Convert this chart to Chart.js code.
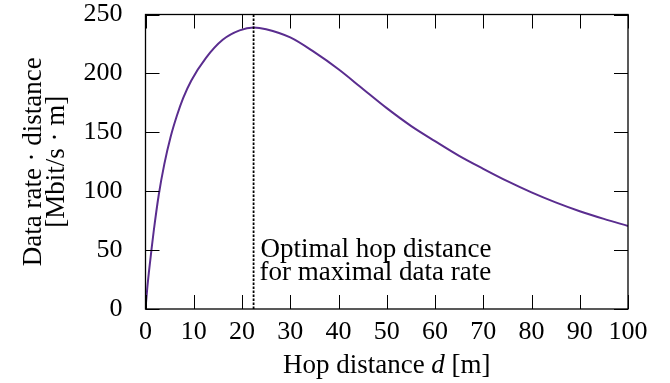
<!DOCTYPE html>
<html>
<head>
<meta charset="utf-8">
<script src="https://cdn.jsdelivr.net/npm/chart.js@4/dist/chart.umd.min.js"></script>
<style>
  html, body { margin: 0; padding: 0; background: #fff; }
</style>
</head>
<body>
<canvas id="hopChart" width="670" height="383"></canvas>
<script>
// hop distance d [m] and data rate * distance [Mbit/s * m]
const hopDistance = [0, 0.35, 0.7, 1.2, 1.7, 2.75, 3.9, 5.2, 6.5, 7.8, 9.5, 12.5, 16, 19.5, 22.4,
	25, 30, 35, 40, 45, 50, 55, 60, 65, 70, 75, 80, 85, 90, 95, 100];
const rateDistance = [0, 17, 31, 49, 66, 97, 123, 146, 164, 179, 194, 213, 228.5, 236.5, 239,
	237.5, 230.5, 218, 203.5, 187, 170.5, 155.5, 142.5, 130, 119, 108.5, 99, 90.5, 83, 76.5, 70.5];
const optimalDistance = 22.4;
const xTicks = [0, 10, 20, 30, 40, 50, 60, 70, 80, 90, 100];
const yTicks = [0, 50, 100, 150, 200, 250];
const noteLines = ['Optimal hop distance', 'for maximal data rate'];

const FONT = "'Liberation Serif', 'Times New Roman', serif";
const TICK_LEN = 14;

function toPoints(xs, ys) {
	return xs.map((v, i) => ({x: v, y: ys[i]}));
}

// frame, inward ticks on all sides, axis titles and the note
const framePlugin = {
	id: 'frame',
	afterDatasetsDraw(chart) {
		const ctx = chart.ctx;
		const a = chart.chartArea;
		const x = chart.scales.x;
		const y = chart.scales.y;
		ctx.save();
		ctx.strokeStyle = '#000';
		ctx.lineWidth = 1;
		ctx.beginPath();
		xTicks.forEach(v => {
			const px = Math.round(x.getPixelForValue(v)) + 0.5;
			ctx.moveTo(px, a.bottom); ctx.lineTo(px, a.bottom - TICK_LEN);
			ctx.moveTo(px, a.top); ctx.lineTo(px, a.top + TICK_LEN);
		});
		yTicks.forEach(v => {
			const py = Math.round(y.getPixelForValue(v)) + 0.5;
			ctx.moveTo(a.left, py); ctx.lineTo(a.left + TICK_LEN, py);
			ctx.moveTo(a.right, py); ctx.lineTo(a.right - TICK_LEN, py);
		});
		ctx.stroke();
		ctx.lineWidth = 1.3;
		ctx.strokeRect(a.left, a.top, a.right - a.left, a.bottom - a.top);

		ctx.fillStyle = '#000';
		ctx.textBaseline = 'alphabetic';
		ctx.font = '27px ' + FONT;

		// note next to the optimum
		const nx = x.getPixelForValue(optimalDistance) + 7;
		ctx.textAlign = 'left';
		ctx.fillText(noteLines[0], nx, 257);
		ctx.fillText(noteLines[1], nx - 1, 280);

		// x title with italic d
		const p1 = 'Hop distance ', p2 = 'd', p3 = ' [m]';
		const w1 = ctx.measureText(p1).width, w3 = ctx.measureText(p3).width;
		ctx.font = 'italic 27px ' + FONT;
		const w2 = ctx.measureText(p2).width;
		let tx = (a.left + a.right) / 2 - (w1 + w2 + w3) / 2;
		ctx.font = '27px ' + FONT;
		ctx.fillText(p1, tx, 373);
		ctx.font = 'italic 27px ' + FONT;
		ctx.fillText(p2, tx + w1, 373);
		ctx.font = '27px ' + FONT;
		ctx.fillText(p3, tx + w1 + w2, 373);

		// y title, two lines
		ctx.translate(0, (a.top + a.bottom) / 2);
		ctx.rotate(-Math.PI / 2);
		ctx.textAlign = 'center';
		ctx.fillText('Data rate \u00b7 distance', 0, 41);
		ctx.fillText('[Mbit/s \u00b7 m]', 0, 63.5);
		ctx.restore();
	}
};

function hopChart(ctx) {
	const chart = new Chart(ctx, {
		type: 'line',
		data: {
			datasets: [{
				label: 'Optimal hop distance',
				data: toPoints([optimalDistance, optimalDistance], [yTicks[0], yTicks[yTicks.length - 1]]),
				borderColor: '#000',
				borderWidth: 1.8,
				borderDash: [2.5, 1.5],
				pointRadius: 0
			},
			{
				label: 'Data rate * distance',
				data: toPoints(hopDistance, rateDistance),
				borderColor: '#5a2d8f',
				borderWidth: 2,
				pointRadius: 0,
				cubicInterpolationMode: 'monotone'
			}]
		},
		options: {
			responsive: false,
			animation: false,
			devicePixelRatio: 1,
			layout: {
				padding: {top: 14.5, right: 42, left: 0, bottom: 0}
			},
			plugins: {
				legend: {display: false},
				tooltip: {enabled: false}
			},
			scales: {
				x: {
					type: 'linear',
					min: 0,
					max: 100,
					afterFit: s => {
						s.height = 74;
						s.paddingLeft = 0;
						s.paddingRight = 0;
					},
					afterBuildTicks: s => { s.ticks = xTicks.map(v => ({value: v})); },
					grid: {display: false, drawTicks: false},
					border: {display: false},
					ticks: {
						color: '#000',
						padding: 8,
						maxRotation: 0,
						font: {family: FONT, size: 26}
					}
				},
				y: {
					min: 0,
					max: 250,
					afterFit: s => {
						s.width = 145.5;
						s.paddingTop = 0;
						s.paddingBottom = 0;
					},
					afterBuildTicks: s => { s.ticks = yTicks.map(v => ({value: v})); },
					grid: {display: false, drawTicks: false},
					border: {display: false},
					ticks: {
						color: '#000',
						padding: 23,
						font: {family: FONT, size: 26}
					}
				}
			}
		},
		plugins: [framePlugin]
	});
	return chart;
}

hopChart(document.getElementById('hopChart'));
</script>
</body>
</html>
